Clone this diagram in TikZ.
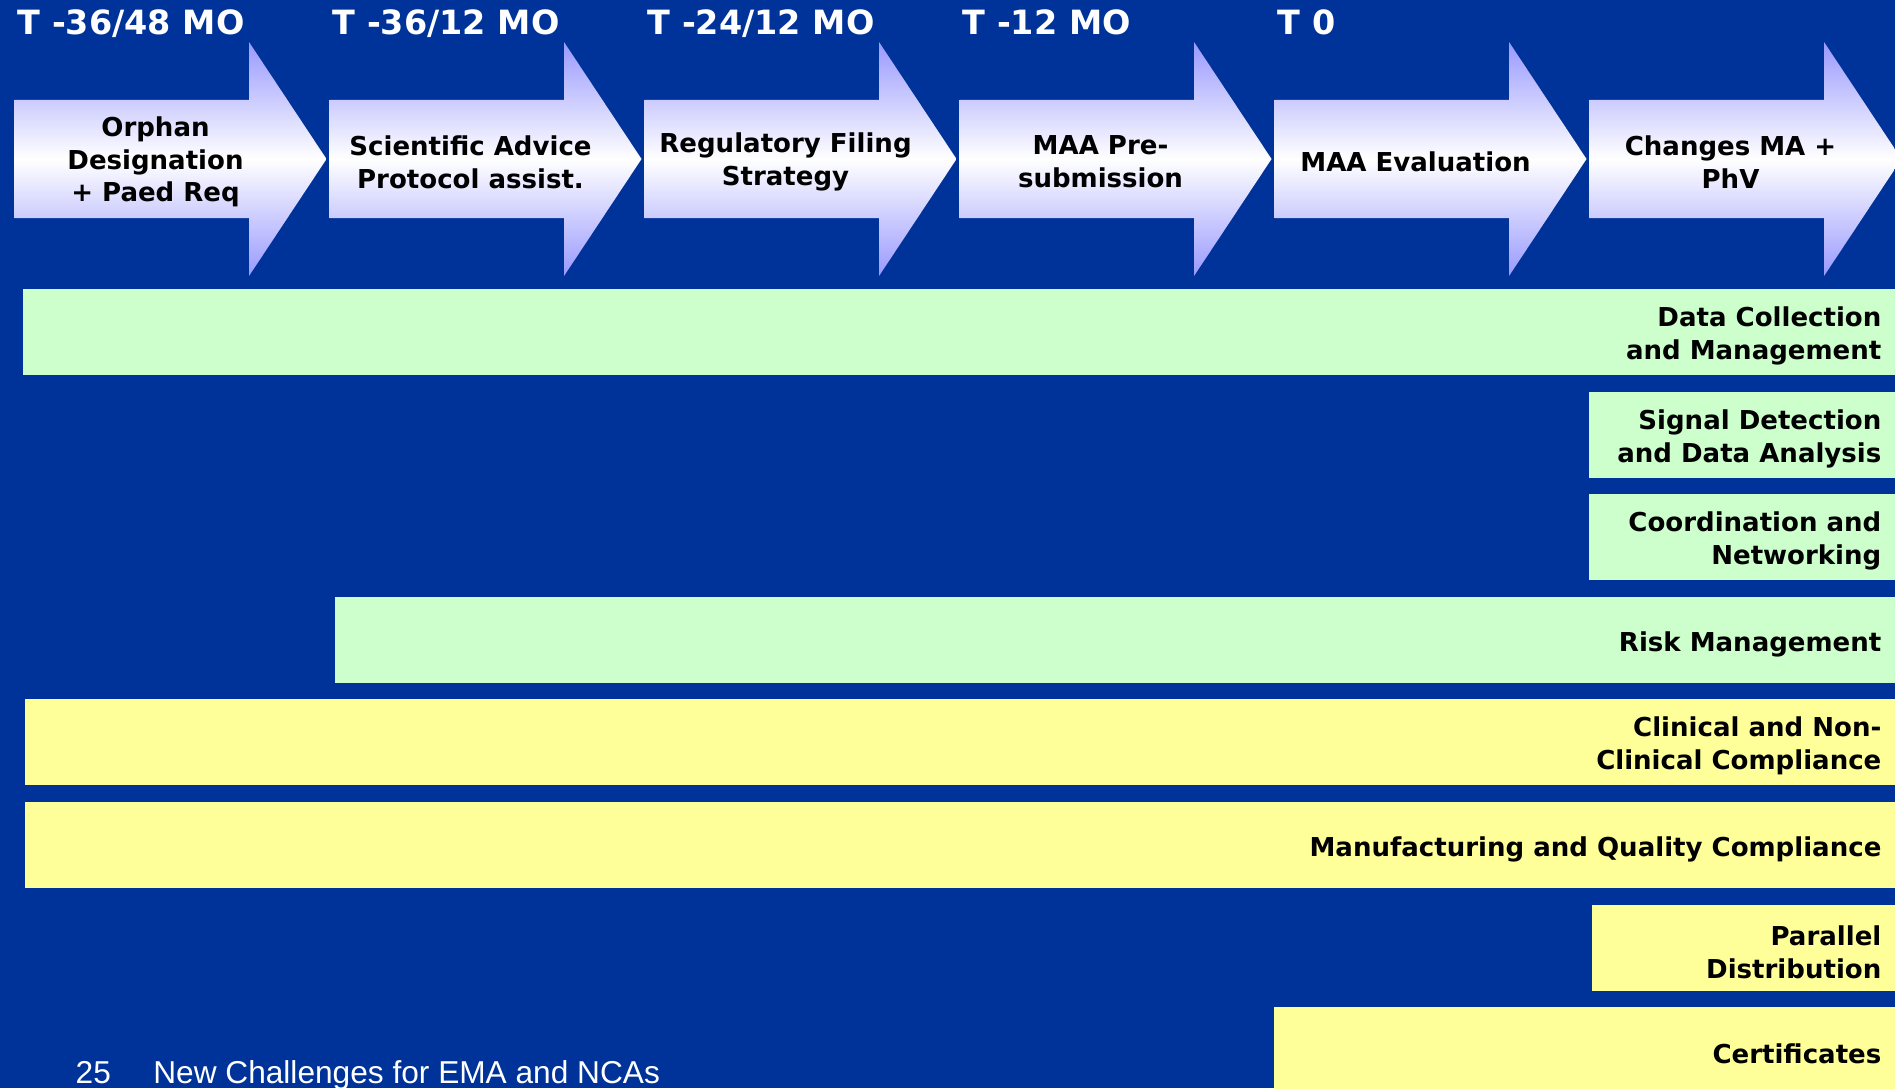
\documentclass[tikz,border=0pt]{standalone}
\usepackage{fontspec}
\setmainfont{DejaVu Sans}
\newfontfamily\footerfont{Liberation Sans}
\usetikzlibrary{positioning}
\definecolor{ema-blue}{HTML}{003399}
\definecolor{ema-lavender}{HTML}{9999FF}
\definecolor{ema-green}{HTML}{CCFFCC}
\definecolor{ema-yellow}{HTML}{FFFF99}
\colorlet{phv}{ema-green}
\colorlet{compliance}{ema-yellow}
\tikzset{
  timelabel/.style={anchor=base west,inner sep=0,text=white,font=\bfseries\fontsize{9.5}{11}\selectfont},
  phasetext/.style={align=center,inner sep=0,text=black,font=\bfseries\fontsize{7.4}{9.3}\selectfont},
  bartext/.style={anchor=east,align=right,inner sep=0,text=black,font=\bfseries\fontsize{7.4}{9.3}\selectfont},
  footer/.style={anchor=base west,inner sep=0,text=white,font=\footerfont\fontsize{9}{10}\selectfont},
}
\newcommand{\tikzphase}[3]{%
\pgfmathsetmacro{\phaseleft}{14.5+315*#1}
% arrow body and head
\shade[top color=ema-lavender,bottom color=ema-lavender,middle color=white]
  (\phaseleft,100) -- ++(234.5,0) -- ++(0,-58) -- ++(77.5,117) -- ++(-77.5,117) -- ++(0,-58) -- (\phaseleft,218) -- cycle;
% text of the phase
\node[phasetext] (#2) at (\phaseleft+141,162) {#3};
}
\newcommand{\tikzactivity}[5][]{%
\fill[#1] (#2,#3) rectangle (1900,#3+86);
\node[bartext] (#4) at (1882,#3+47) {#5};
}

\begin{document}
\begin{tikzpicture}[x=0.01cm, y=-0.01cm]
\useasboundingbox (0,0) rectangle (1895,1088);
\fill[ema-blue] (0,0) rectangle (1895,1088);
\clip (0,0) rectangle (1895,1088);
% time line
\foreach \i/\name/\txt in {0/tminusa/{T -36/48 MO},1/tminusb/{T -36/12 MO},2/tminusc/{T -24/12 MO},3/tminusd/{T -12 MO},4/tzero/{T 0}} {
  \node[timelabel] (\name) at (17+315*\i,35) {\txt};
}
\tikzphase{0}{orphan}{Orphan\\Designation\\+ Paed Req}
\tikzphase{1}{advice}{Scientific Advice\\Protocol assist.}
\tikzphase{2}{filing}{Regulatory Filing\\Strategy}
\tikzphase{3}{presub}{MAA Pre-\\submission}
\tikzphase{4}{evaluation}{MAA Evaluation}
\tikzphase{5}{changes}{Changes MA +\\PhV}
% activities
\tikzactivity[phv]{23}{289}{datacoll}{Data Collection\\and Management}
\tikzactivity[phv]{1589}{392}{signal}{Signal Detection\\and Data Analysis}
\tikzactivity[phv]{1589}{494}{coord}{Coordination and\\Networking}
\tikzactivity[phv]{335}{597}{risk}{Risk Management}
\tikzactivity[compliance]{25}{699}{clinical}{Clinical and Non-\\Clinical Compliance}
\tikzactivity[compliance]{25}{802}{manufacturing}{Manufacturing and Quality Compliance}
\tikzactivity[compliance]{1592}{905}{parallel}{Parallel\\Distribution}
\tikzactivity[compliance]{1274}{1007}{certificates}{Certificates}
% footer
\node[footer] (pagenum) at (75,1083) {25};
\node[footer,right=4.1mm of pagenum.base east,anchor=base west] (title) {New Challenges for EMA and NCAs};
\end{tikzpicture}
\end{document}
